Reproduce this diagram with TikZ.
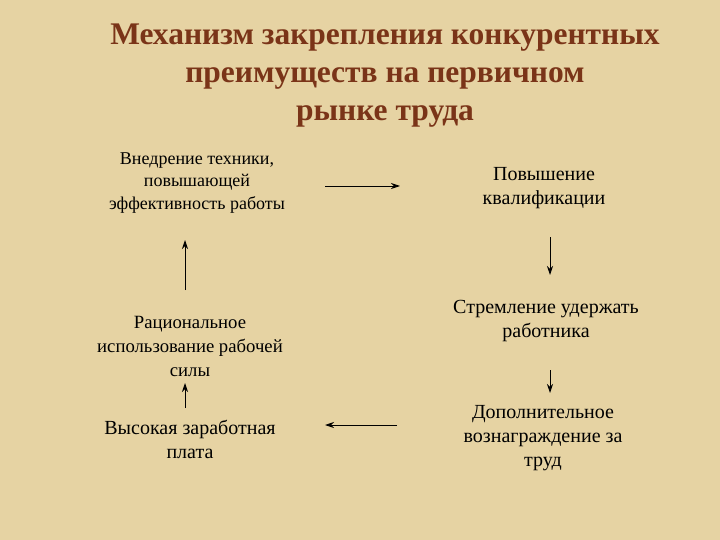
\documentclass[tikz,border=0pt]{standalone}
\usepackage{fontspec}
\setmainfont{Liberation Serif}
\usetikzlibrary{arrows.meta}
\definecolor{bg}{HTML}{E6D3A3}
\definecolor{ttl}{HTML}{7A3418}
\begin{document}
\begin{tikzpicture}[x=1pt,y=-1pt,
 ttl/.style={text=ttl,font=\fontsize{31.5}{38}\selectfont\bfseries,align=center},
 box/.style={align=center,font=\fontsize{18}{22.5}\selectfont},
 midbox/.style={align=center,font=\fontsize{18.7}{24}\selectfont},
 bigbox/.style={align=center,font=\fontsize{20}{24}\selectfont},
 arr/.style={-{Stealth[length=9pt,width=6pt]},line width=0.9pt}]
\fill[bg] (0,0) rectangle (720,540);
\useasboundingbox (0,0) rectangle (720,540);
\node[ttl] (t) at (385,76) {Механизм закрепления конкурентных\\преимуществ на первичном\\рынке труда};
\node[box] (a) at (197,183) {Внедрение техники,\\повышающей\\эффективность работы};
\node[bigbox] (b) at (544,188) {Повышение\\квалификации};
\node[bigbox] (c) at (546,321) {Стремление удержать\\работника};
\node[bigbox] (d) at (543,438) {Дополнительное\\вознаграждение за\\труд};
\node[bigbox] (e) at (190,439) {Высокая заработная\\плата};
\node[midbox] (f) at (190,346) {Рациональное\\использование рабочей\\силы};
\coordinate (a1) at (325,186); \coordinate (a2) at (400,186);
\draw[arr] (a1) -- (a2);
\coordinate (b1) at (550,237); \coordinate (b2) at (550,275);
\draw[arr] (b1) -- (b2);
\coordinate (c1) at (550,370); \coordinate (c2) at (550,393);
\draw[arr] (c1) -- (c2);
\coordinate (d1) at (397,425); \coordinate (d2) at (325,425);
\draw[arr] (d1) -- (d2);
\coordinate (e1) at (185,408); \coordinate (e2) at (185,383);
\draw[arr] (e1) -- (e2);
\coordinate (f1) at (185,290); \coordinate (f2) at (185,240);
\draw[arr] (f1) -- (f2);
\end{tikzpicture}
\end{document}
